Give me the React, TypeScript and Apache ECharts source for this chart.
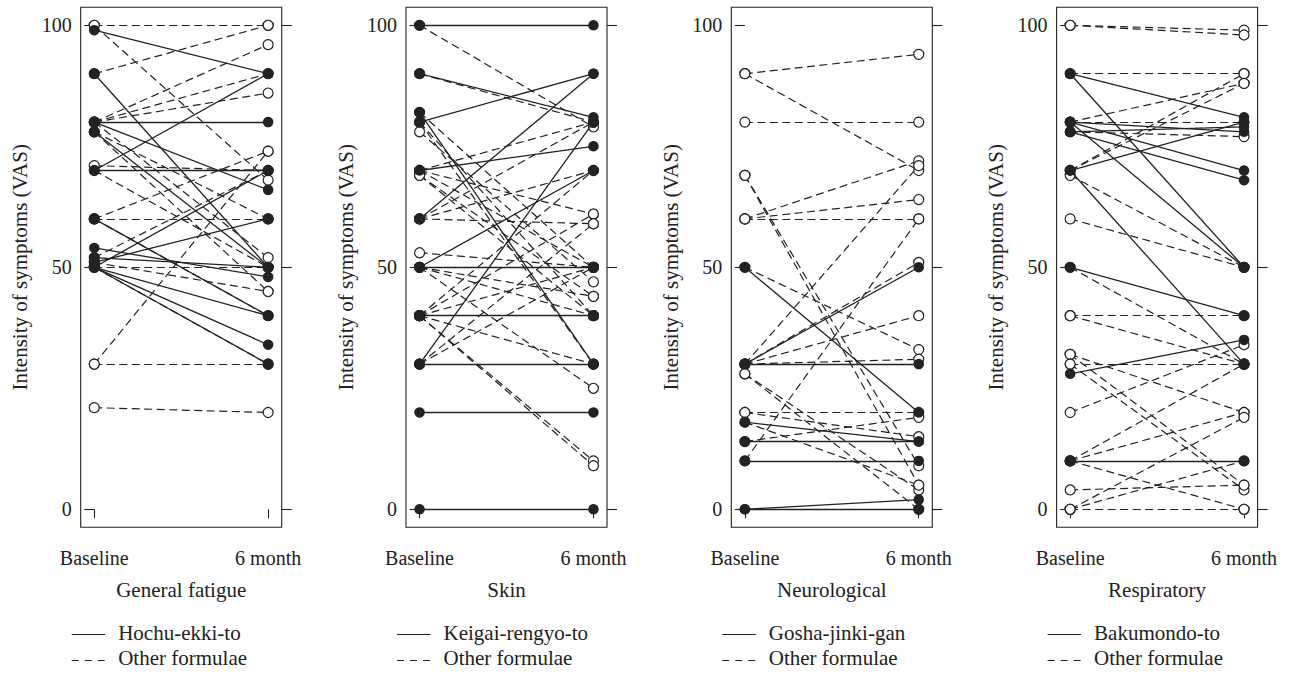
import React, { useEffect, useRef } from "react";
import * as echarts from "echarts";

const timepoints = ["Baseline", "6 month"];
const yTicks = [0, 50, 100];
const yAxisTitle = "Intensity of symptoms (VAS)";
const panelTitles = ["General fatigue", "Skin", "Neurological", "Respiratory"];
const kampoNames = ["Hochu-ekki-to", "Keigai-rengyo-to", "Gosha-jinki-gan", "Bakumondo-to"];
const otherName = "Other formulae";

// [baseline, 6 month] VAS pairs per patient
const fatigueKampo = [[99, 90], [90, 50], [80, 80], [80, 66], [78, 50], [70, 90], [70, 70], [60, 40], [54, 48], [52, 50], [51, 60], [50, 70], [50, 40], [50, 34], [50, 30]];
const fatigueOther = [[100, 100], [100, 68], [90, 100], [80, 96], [80, 90], [80, 86], [80, 52], [78, 60], [78, 45], [71, 70], [70, 50], [60, 74], [60, 60], [60, 40], [52, 70], [51, 45], [50, 50], [50, 30], [30, 74], [30, 30], [21, 20]];

const skinKampo = [[100, 100], [90, 81], [82, 30], [80, 90], [70, 75], [60, 90], [50, 70], [50, 50], [40, 40], [30, 80], [30, 30], [20, 20], [0, 0]];
const skinOther = [[100, 79], [90, 80], [82, 50], [80, 40], [78, 47], [80, 30], [70, 80], [70, 61], [70, 50], [69, 44], [69, 40], [60, 80], [60, 59], [60, 70], [53, 50], [50, 44], [50, 25], [50, 40], [40, 70], [40, 61], [40, 50], [40, 30], [40, 10], [40, 9], [30, 59], [30, 50]];

const neuroKampo = [[50, 20], [30, 50], [30, 30], [18, 14], [14, 14], [10, 10], [0, 2], [0, 0]];
const neuroOther = [[90, 94], [90, 70], [80, 80], [69, 9], [69, 5], [60, 72], [60, 64], [60, 60], [50, 33], [30, 51], [30, 40], [30, 31], [30, 71], [28, 4], [28, 0], [20, 20], [20, 15], [18, 5], [14, 19], [10, 60]];

const respKampo = [[90, 81], [90, 50], [80, 50], [80, 70], [80, 78], [78, 68], [78, 79], [70, 80], [70, 30], [50, 40], [28, 35], [10, 10]];
const respOther = [[100, 99], [100, 98], [90, 90], [80, 88], [80, 80], [78, 77], [70, 90], [70, 88], [69, 50], [60, 50], [50, 30], [40, 40], [40, 30], [32, 20], [32, 5], [30, 30], [30, 4], [20, 34], [10, 30], [10, 20], [10, 0], [4, 5], [0, 19], [0, 10], [0, 0]];

const kampoSets = [fatigueKampo, skinKampo, neuroKampo, respKampo];
const otherSets = [fatigueOther, skinOther, neuroOther, respOther];

const INK = "#222";
const FONT = "Liberation Serif";
const PANEL_STEP = 325.3;
const GRID_LEFT = 80.7;
const GRID_TOP = 7.3;
const GRID_W = 201;
const GRID_H = 520;
const DASH = [8, 4.5];

export default function App() {
  const ref = useRef<HTMLDivElement>(null);
  useEffect(() => {
    if (!ref.current) return;
    const chart = echarts.init(ref.current, null, { renderer: "svg" });
    const grid: any[] = [];
    const xAxis: any[] = [];
    const yAxis: any[] = [];
    const series: any[] = [];
    const graphic: any[] = [];

    for (let i = 0; i < 4; i++) {
      const left = GRID_LEFT + PANEL_STEP * i;
      grid.push({
        left,
        top: GRID_TOP,
        width: GRID_W,
        height: GRID_H,
        show: true,
        borderColor: INK,
        borderWidth: 1.1,
        backgroundColor: "transparent",
      });
      xAxis.push({
        type: "value",
        gridIndex: i,
        min: -0.078,
        max: 1.078,
        axisLine: { show: false },
        splitLine: { show: false },
        axisTick: { show: true, customValues: [0, 1], length: 9, lineStyle: { color: INK, width: 1.1 } },
        axisLabel: {
          show: true,
          customValues: [0, 1],
          formatter: (v: number) => timepoints[Math.round(v)],
          margin: 21,
          fontSize: 20,
          fontFamily: FONT,
          color: INK,
        },
        name: panelTitles[i],
        nameLocation: "middle",
        nameGap: 52.5,
        nameTextStyle: { fontSize: 21, fontFamily: FONT, color: INK },
      });
      yAxis.push({
        type: "value",
        gridIndex: i,
        position: "left",
        min: -3.72,
        max: 103.72,
        axisLine: { show: false },
        splitLine: { show: false },
        axisTick: { show: true, customValues: yTicks, length: 10, lineStyle: { color: INK, width: 1.1 } },
        axisLabel: {
          show: true,
          customValues: yTicks,
          margin: 9,
          fontSize: 20,
          fontFamily: FONT,
          color: INK,
        },
        name: yAxisTitle,
        nameLocation: "middle",
        nameRotate: 90,
        nameGap: 50,
        nameTextStyle: { fontSize: 21, fontFamily: FONT, color: INK },
      });
      yAxis.push({
        type: "value",
        gridIndex: i,
        position: "right",
        min: -3.72,
        max: 103.72,
        axisLine: { show: false },
        splitLine: { show: false },
        axisTick: { show: true, customValues: yTicks, length: 10, lineStyle: { color: INK, width: 1.1 } },
        axisLabel: { show: false },
      });

      const other = otherSets[i];
      const kampo = kampoSets[i];
      const yIdx = i * 2;

      series.push({
        type: "lines",
        coordinateSystem: "cartesian2d",
        xAxisIndex: i,
        yAxisIndex: yIdx,
        silent: true,
        z: 2,
        lineStyle: { color: INK, width: 1.2, type: DASH, opacity: 1 },
        data: other.map((p) => ({ coords: [[0, p[0]], [1, p[1]]] })),
      });
      const openPts: number[][] = [];
      other.forEach((p) => {
        openPts.push([0, p[0]]);
        openPts.push([1, p[1]]);
      });
      series.push({
        type: "scatter",
        xAxisIndex: i,
        yAxisIndex: yIdx,
        silent: true,
        z: 3,
        symbol: "circle",
        symbolSize: 10,
        itemStyle: { color: "#fff", borderColor: INK, borderWidth: 1.2, opacity: 1 },
        data: openPts,
      });
      series.push({
        type: "lines",
        coordinateSystem: "cartesian2d",
        xAxisIndex: i,
        yAxisIndex: yIdx,
        silent: true,
        z: 4,
        lineStyle: { color: INK, width: 1.3, type: "solid", opacity: 1 },
        data: kampo.map((p) => ({ coords: [[0, p[0]], [1, p[1]]] })),
      });
      const filledPts: number[][] = [];
      kampo.forEach((p) => {
        filledPts.push([0, p[0]]);
        filledPts.push([1, p[1]]);
      });
      series.push({
        type: "scatter",
        xAxisIndex: i,
        yAxisIndex: yIdx,
        silent: true,
        z: 5,
        symbol: "circle",
        symbolSize: 10.5,
        itemStyle: { color: INK, borderColor: INK, borderWidth: 0, opacity: 1 },
        data: filledPts,
      });

      // legend key
      const lx = 71.7 + PANEL_STEP * i;
      graphic.push({
        type: "line",
        shape: { x1: lx, y1: 634.5, x2: lx + 33.5, y2: 634.5 },
        style: { stroke: INK, lineWidth: 1.2 },
        silent: true,
      });
      graphic.push({
        type: "line",
        shape: { x1: lx, y1: 660.5, x2: lx + 33.5, y2: 660.5 },
        style: { stroke: INK, lineWidth: 1.2, lineDash: [7, 6] },
        silent: true,
      });
      graphic.push({
        type: "text",
        x: lx + 46.5,
        y: 633,
        style: { text: kampoNames[i], fontSize: 21, fontFamily: FONT, fill: INK, verticalAlign: "middle", align: "left" },
        silent: true,
      });
      graphic.push({
        type: "text",
        x: lx + 46.5,
        y: 658,
        style: { text: otherName, fontSize: 21, fontFamily: FONT, fill: INK, verticalAlign: "middle", align: "left" },
        silent: true,
      });
    }

    chart.setOption({
      animation: false,
      backgroundColor: "#fff",
      textStyle: { fontFamily: FONT },
      grid,
      xAxis,
      yAxis,
      series,
      graphic,
    });
    return () => chart.dispose();
  }, []);

  return (
    <div
      ref={ref}
      style={{ position: "fixed", left: 0, top: 0, width: 1292, height: 674, background: "#fff" }}
    />
  );
}
